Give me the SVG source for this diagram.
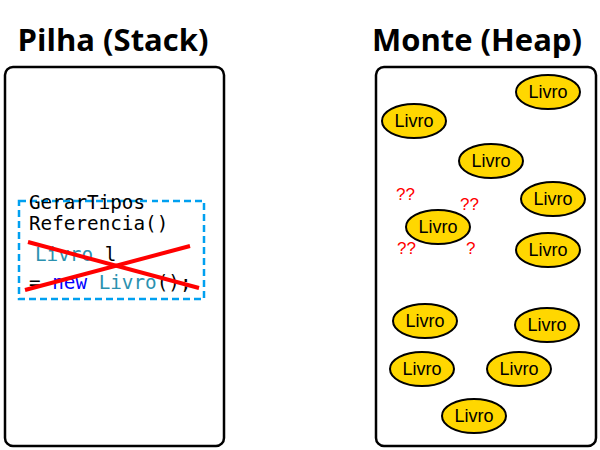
<svg xmlns="http://www.w3.org/2000/svg" width="600" height="450" viewBox="0 0 600 450">
<style>
.title{font-family:"Open Sans","Liberation Sans",sans-serif;font-weight:bold;font-size:31px;fill:#000}
.box{fill:#fff;stroke:#000;stroke-width:2.5}
.obj ellipse{fill:#FFD700;stroke:#000;stroke-width:2}
.obj text{font-family:"Liberation Sans",sans-serif;font-size:18px;fill:#000;text-anchor:middle}
.code{font-family:"DejaVu Sans Mono","Liberation Mono",monospace;font-size:19.3px;fill:#000}
.q{font-family:"Liberation Sans",sans-serif;font-size:17px;fill:#FF0000}
</style>
<rect width="600" height="450" fill="#fff"/>
<text class="title" x="113" y="51" text-anchor="middle">Pilha (Stack)</text>
<text class="title" x="477" y="51" text-anchor="middle">Monte (Heap)</text>
<g id="stack"><rect class="box" x="5" y="67" width="219" height="379" rx="8"/></g>
<g id="heap"><rect class="box" x="376" y="67" width="220" height="379" rx="8"/></g>
<g id="frame">
<rect x="19" y="201" width="185" height="98" fill="none" stroke="#00A0F0" stroke-width="2.5" stroke-dasharray="7,4"/>
<rect x="150" y="194" width="2" height="12" fill="#fff"/>
<text class="code" x="29" y="209">GerarTipos</text>
<text class="code" x="29" y="230">Referencia()</text>
<text class="code" x="35" y="261" xml:space="preserve"><tspan fill="#2B91AF">Livro</tspan> l</text>
<text class="code" x="29" y="289">= <tspan fill="#0000FF">new</tspan> <tspan fill="#2B91AF">Livro</tspan>();</text>
<line x1="28" y1="242" x2="199" y2="288" stroke="#FF0000" stroke-width="4"/>
<line x1="25" y1="290" x2="190" y2="246" stroke="#FF0000" stroke-width="4"/>
</g>
<g id="o1" class="obj"><ellipse cx="548" cy="92" rx="32" ry="17"/><text x="548" y="98">Livro</text></g>
<g id="o2" class="obj"><ellipse cx="414" cy="121" rx="32" ry="17"/><text x="414" y="127">Livro</text></g>
<g id="o3" class="obj"><ellipse cx="491" cy="161" rx="32" ry="17"/><text x="491" y="167">Livro</text></g>
<g id="o4" class="obj"><ellipse cx="553" cy="199" rx="32" ry="17"/><text x="553" y="205">Livro</text></g>
<g id="o5" class="obj"><ellipse cx="438" cy="227" rx="32" ry="17"/><text x="438" y="233">Livro</text></g>
<g id="o6" class="obj"><ellipse cx="548" cy="250" rx="32" ry="17"/><text x="548" y="256">Livro</text></g>
<g id="o7" class="obj"><ellipse cx="425" cy="321" rx="32" ry="17"/><text x="425" y="327">Livro</text></g>
<g id="o8" class="obj"><ellipse cx="547" cy="325" rx="32" ry="17"/><text x="547" y="331">Livro</text></g>
<g id="o9" class="obj"><ellipse cx="422" cy="369" rx="32" ry="17"/><text x="422" y="375">Livro</text></g>
<g id="o10" class="obj"><ellipse cx="519" cy="369" rx="32" ry="17"/><text x="519" y="375">Livro</text></g>
<g id="o11" class="obj"><ellipse cx="474" cy="416" rx="32" ry="17"/><text x="474" y="422">Livro</text></g>
<g id="marks">
<text class="q" x="396" y="200">??</text>
<text class="q" x="460" y="210">??</text>
<text class="q" x="397" y="254">??</text>
<text class="q" x="466" y="254">?</text>
</g>
</svg>
